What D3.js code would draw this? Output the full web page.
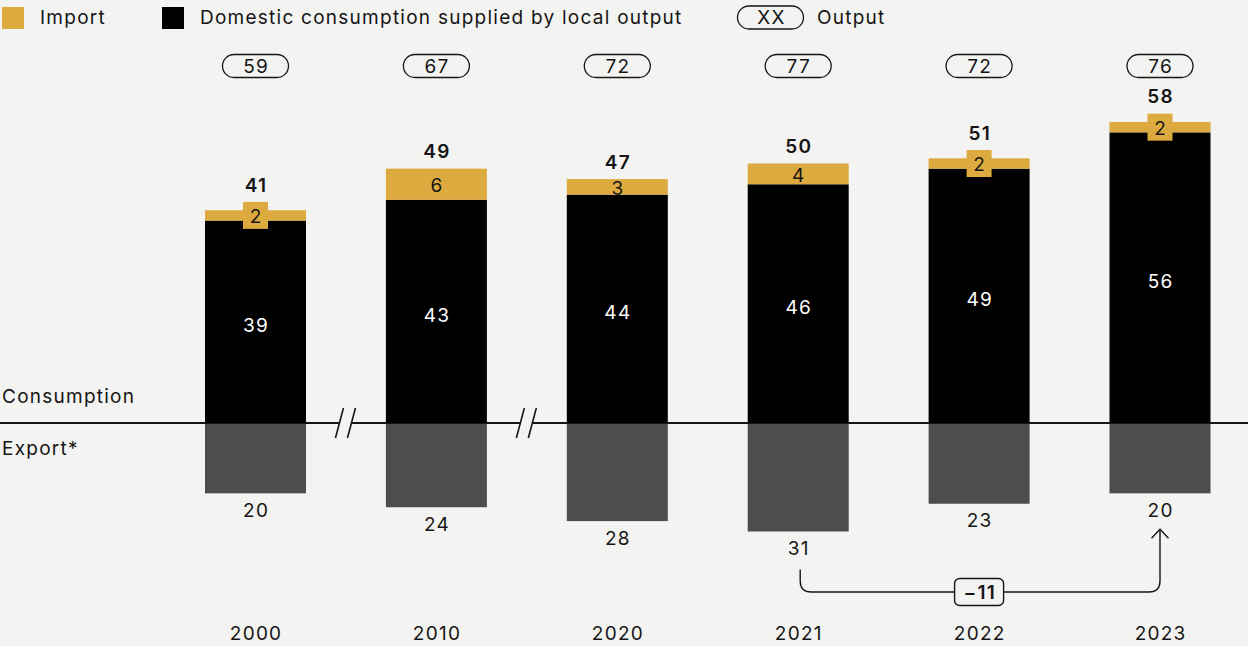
<!DOCTYPE html>
<html>
<head>
<meta charset="utf-8">
<script src="https://cdn.jsdelivr.net/npm/d3@7"></script>
<style>
  html, body { margin: 0; padding: 0; background: #f3f3f1; }
  svg { display: block; font-family: Inter, "Noto Sans", sans-serif; letter-spacing: 1.25px; }
</style>
</head>
<body>
<svg id="chart" width="1248" height="646"></svg>
<script>
// Consumption, imports, exports and output by year (units as published)
const years = ["2000", "2010", "2020", "2021", "2022", "2023"];
const domestic = [39, 43, 44, 46, 49, 56];
const imports = [2, 6, 3, 4, 2, 2];
const exports = [20, 24, 28, 31, 23, 20];
const output = [59, 67, 72, 77, 72, 76];
const breaksAfter = ["2000", "2010"];
const legendItems = ["Import", "Domestic consumption supplied by local output", "Output"];
const rowLabels = ["Consumption", "Export*"];

const GOLD = "#dcaa3e", BLACK = "#000", GREY = "#4d4d4d", INK = "#151515", BG = "#f3f3f1";
const W = 1248, H = 646, baseY = 423, barW = 101;

const svg = d3.select("#chart");
svg.append("rect").attr("width", W).attr("height", H).attr("fill", BG);

const x = d3.scalePoint().domain(years).range([255.5, 1160]);
const totals = years.map((_, i) => domestic[i] + imports[i]);
const yUp = d3.scaleLinear().domain([0, 10]).range([baseY, baseY - 51.9]);
const yDown = d3.scaleLinear().domain([0, d3.max(exports)]).range([baseY + 1, 531.5]);

const fs = 19;

// Legend
const leg = svg.append("g");
leg.append("rect").attr("x", 2).attr("y", 7).attr("width", 22).attr("height", 22).attr("fill", GOLD);
leg.append("text").attr("x", 40).attr("y", 17.5).attr("dy", "0.35em").attr("font-size", fs).attr("fill", INK).text(legendItems[0]);
leg.append("rect").attr("x", 162).attr("y", 7).attr("width", 22).attr("height", 22).attr("fill", BLACK);
leg.append("text").attr("x", 200).attr("y", 17.5).attr("dy", "0.35em").attr("font-size", fs).attr("fill", INK).text(legendItems[1]);
leg.append("rect").attr("x", 737.5).attr("y", 6).attr("width", 66).attr("height", 23).attr("rx", 11.5)
  .attr("fill", "none").attr("stroke", INK).attr("stroke-width", 1.3);
leg.append("text").attr("x", 771.5).attr("y", 17.5).attr("dy", "0.35em").attr("text-anchor", "middle")
  .attr("font-size", fs).attr("fill", INK).text("XX");
leg.append("text").attr("x", 817).attr("y", 17.5).attr("dy", "0.35em").attr("font-size", fs).attr("fill", INK).text(legendItems[2]);

// Zero line with axis breaks
svg.append("line").attr("x1", 0).attr("x2", W).attr("y1", baseY).attr("y2", baseY)
  .attr("stroke", INK).attr("stroke-width", 2);
breaksAfter.forEach(yr => {
  const i = years.indexOf(yr);
  const cx = (x(years[i]) + x(years[i + 1])) / 2 - 0.5;
  svg.append("rect").attr("x", cx - 6).attr("y", baseY - 2).attr("width", 12).attr("height", 4).attr("fill", BG);
  [-6, 6].forEach(off => {
    svg.append("line")
      .attr("x1", cx + off - 4).attr("y1", baseY + 15)
      .attr("x2", cx + off + 4).attr("y2", baseY - 15)
      .attr("stroke", INK).attr("stroke-width", 1.6);
  });
});

// Row labels
svg.append("text").attr("x", 2).attr("y", 396).attr("dy", "0.35em").attr("font-size", fs).attr("fill", INK).text(rowLabels[0]);
svg.append("text").attr("x", 2).attr("y", 448).attr("dy", "0.35em").attr("font-size", fs).attr("fill", INK).text(rowLabels[1]);

// centred labels: nudge by half the trailing letter-spacing
const cxl = v => v + 0.6;

const g = svg.append("g");
years.forEach((yr, i) => {
  const cx = x(yr), x0 = cx - barW / 2;
  const dTop = yUp(domestic[i]), tTop = yUp(totals[i]);

  // export (below zero)
  g.append("rect").attr("x", x0).attr("y", yDown(0)).attr("width", barW)
    .attr("height", yDown(exports[i]) - yDown(0)).attr("fill", GREY);
  g.append("text").attr("x", cxl(cx)).attr("y", yDown(exports[i]) + 17).attr("dy", "0.35em")
    .attr("text-anchor", "middle").attr("font-size", fs).attr("fill", INK).text(exports[i]);

  // domestic
  g.append("rect").attr("x", x0).attr("y", dTop).attr("width", barW)
    .attr("height", yUp(0) - dTop).attr("fill", BLACK);
  g.append("text").attr("x", cxl(cx)).attr("y", (dTop + yUp(0)) / 2 + 4).attr("dy", "0.35em")
    .attr("text-anchor", "middle").attr("font-size", fs).attr("fill", "#fff").text(domestic[i]);

  // import
  g.append("rect").attr("x", x0).attr("y", tTop).attr("width", barW)
    .attr("height", dTop - tTop).attr("fill", GOLD);
  const segMid = (tTop + dTop) / 2;
  let topEdge = tTop;
  if (dTop - tTop < 14) {
    g.append("rect").attr("x", cx - 12.5).attr("y", segMid - 13.5).attr("width", 25).attr("height", 27).attr("fill", GOLD);
    topEdge = segMid - 13.5;
  }
  g.append("text").attr("x", cxl(cx)).attr("y", segMid + 1).attr("dy", "0.35em")
    .attr("text-anchor", "middle").attr("font-size", fs).attr("fill", INK).text(imports[i]);

  // total consumption
  g.append("text").attr("x", cxl(cx)).attr("y", topEdge - 17).attr("dy", "0.35em")
    .attr("text-anchor", "middle").attr("font-size", fs).attr("font-weight", 600).attr("fill", INK).text(totals[i]);

  // output pill
  g.append("rect").attr("x", cx - 33).attr("y", 54.5).attr("width", 66).attr("height", 23).attr("rx", 11.5)
    .attr("fill", "none").attr("stroke", INK).attr("stroke-width", 1.3);
  g.append("text").attr("x", cxl(cx)).attr("y", 66).attr("dy", "0.35em")
    .attr("text-anchor", "middle").attr("font-size", fs).attr("fill", INK).text(output[i]);

  // year labels
  g.append("text").attr("x", cxl(cx)).attr("y", 633).attr("dy", "0.35em")
    .attr("text-anchor", "middle").attr("font-size", fs).attr("fill", INK).text(yr);
});

// Change in exports, 2021 -> 2023
const iA = years.indexOf("2021"), iB = years.indexOf("2023");
const delta = exports[iB] - exports[iA];
const ax = x(years[iA]) + 2, bx = x(years[iB]);
const ay = yDown(exports[iA]) + 38, by = yDown(exports[iB]) + 36, hy = 592, r = 11;
const p = d3.path();
p.moveTo(ax, ay);
p.lineTo(ax, hy - r);
p.quadraticCurveTo(ax, hy, ax + r, hy);
p.lineTo(bx - r, hy);
p.quadraticCurveTo(bx, hy, bx, hy - r);
p.lineTo(bx, by);
svg.append("path").attr("d", p.toString()).attr("fill", "none").attr("stroke", INK).attr("stroke-width", 1.4);
svg.append("path").attr("d", `M${bx - 8.5},${by + 9}L${bx},${by}L${bx + 8.5},${by + 9}`)
  .attr("fill", "none").attr("stroke", INK).attr("stroke-width", 1.4);
const mx = x("2022");
svg.append("rect").attr("x", mx - 24.5).attr("y", hy - 13.5).attr("width", 49).attr("height", 27).attr("rx", 5)
  .attr("fill", BG).attr("stroke", INK).attr("stroke-width", 1.4);
svg.append("text").attr("x", cxl(mx)).attr("y", hy).attr("dy", "0.35em").attr("text-anchor", "middle")
  .attr("font-size", fs).attr("font-weight", 600).attr("fill", INK).text("\u2212" + Math.abs(delta));
</script>
</body>
</html>
